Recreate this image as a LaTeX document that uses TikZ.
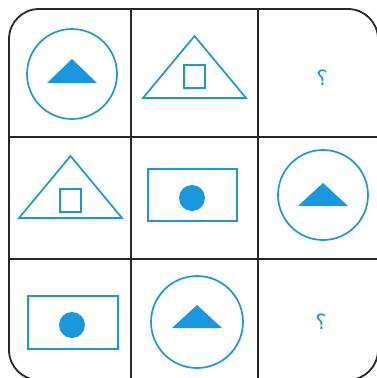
\documentclass[tikz,border=0pt]{standalone}
\usepackage{fontspec}
\newfontfamily\arabicfont[Script=Arabic]{DejaVu Sans}
\TeXXeTstate=1
\definecolor{shapeblue}{RGB}{24,152,222}
\definecolor{gridgray}{RGB}{40,40,40}
\begin{document}
\begin{tikzpicture}[x=1pt,y=-1pt,
  gridline/.style={draw=gridgray,line width=1.8pt},
  outline/.style={draw=shapeblue,line width=1.7pt},
  solid/.style={fill=shapeblue,draw=none},
  qmark/.style={text=shapeblue,font=\arabicfont\fontsize{21}{21}\selectfont,inner sep=0pt}]
\useasboundingbox (0,0) rectangle (376,378);
% outer frame and grid
\draw[gridline,rounded corners=30pt] (9,9) rectangle (378,380);
\draw[gridline] (131,9) -- (131,380);
\draw[gridline] (258,9) -- (258,380);
\draw[gridline] (9,137) -- (378,137);
\draw[gridline] (9,259) -- (378,259);
% row 1
\draw[outline] (72,74) circle (45);
\fill[solid] (47,83) -- (97,83) -- (72,59) -- cycle;
\draw[outline] (143,98) -- (246,98) -- (194.5,36) -- cycle;
\draw[outline] (184,65) rectangle (205,88);
\node[qmark] (q1) at (322,78) {\beginR ؟\endR};
% row 2
\draw[outline] (19,218) -- (122,218) -- (70.5,156) -- cycle;
\draw[outline] (60,189) rectangle (81,212);
\draw[outline] (148,169) rectangle (237,221);
\fill[solid] (192,198) circle (13);
\draw[outline] (323,195) circle (45);
\fill[solid] (298,206) -- (348,206) -- (323,183) -- cycle;
% row 3
\draw[outline] (28,296) rectangle (118,349);
\fill[solid] (72,325) circle (13);
\draw[outline] (197,322) circle (46);
\fill[solid] (172,328) -- (222,328) -- (197,305) -- cycle;
\node[qmark] (q2) at (321,322) {\beginR ؟\endR};
\end{tikzpicture}
\end{document}
